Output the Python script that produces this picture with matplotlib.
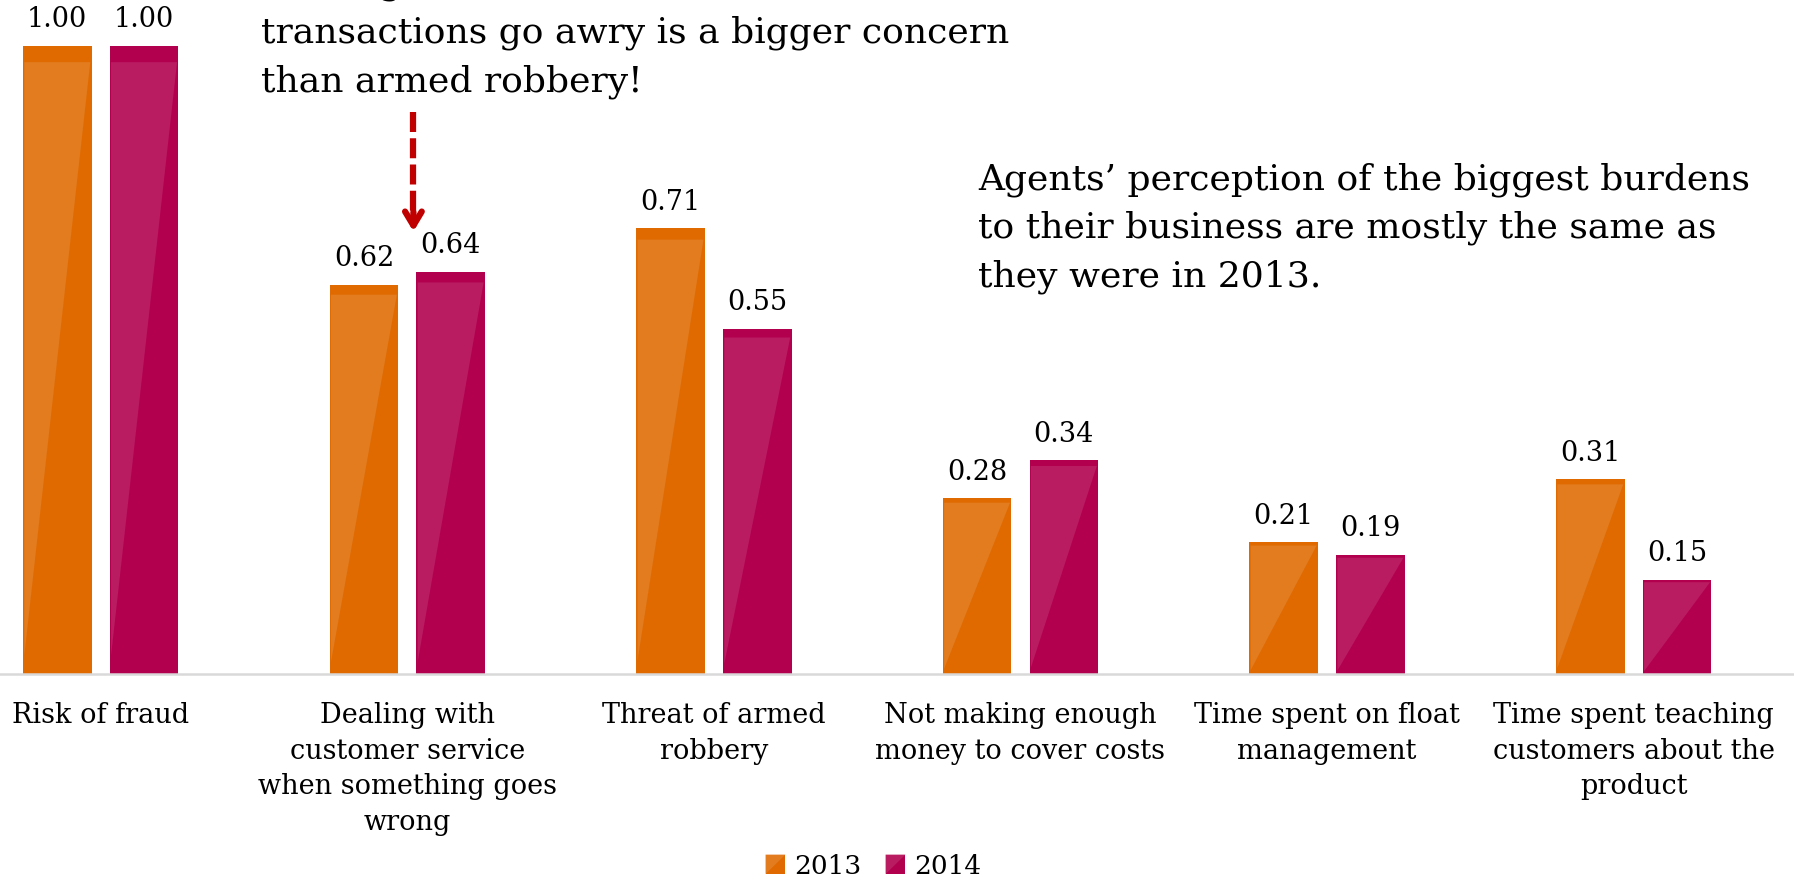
import numpy as np
import matplotlib
matplotlib.use('Agg')
import matplotlib.pyplot as plt
from matplotlib.patches import Polygon, Rectangle
from matplotlib.legend_handler import HandlerBase

plt.rcParams['font.family'] = 'DejaVu Serif'

categories = ['Risk of fraud',
              'Dealing with\ncustomer service\nwhen something goes\nwrong',
              'Threat of armed\nrobbery',
              'Not making enough\nmoney to cover costs',
              'Time spent on float\nmanagement',
              'Time spent teaching\ncustomers about the\nproduct']
years = ['2013', '2014']
vals_2013 = [1.00, 0.62, 0.71, 0.28, 0.21, 0.31]
vals_2014 = [1.00, 0.64, 0.55, 0.34, 0.19, 0.15]

# base colour and lighter sheen colour for each series
dark = ['#E06A00', '#B2004F']
light = ['#E27C1F', '#BA1C62']

W, H = 1794, 880
fig = plt.figure(figsize=(W / 100, H / 100), dpi=100)
ax = fig.add_axes([0, 206 / H, 1, 674 / H])

x = np.arange(len(categories))
bw = 0.224
off = 0.1415


def gloss(ax, bars, col):
    # light triangle from the top-right corner down to the bottom-left
    for b in bars:
        x0, w, h = b.get_x(), b.get_width(), b.get_height()
        pts = [(x0 + 0.02 * w, 0.974 * h), (x0 + 0.98 * w, 0.974 * h), (x0 + 0.02 * w, 0.03 * h)]
        ax.add_patch(Polygon(pts, closed=True, fc=col, ec='none', zorder=3))


for i, (vals, yr) in enumerate(zip([vals_2013, vals_2014], years)):
    bars = ax.bar(x + (i * 2 - 1) * off, vals, bw, color=dark[i], label=yr, zorder=2)
    gloss(ax, bars, light[i])
    ax.bar_label(bars, fmt='%.2f', padding=9, fontsize=19.5)

ax.set_xlim(-0.3284, 5.523)
ax.set_ylim(0, 1.073)
ax.set_yticks([])
ax.set_xticks(x)
ax.set_xticklabels(categories, fontsize=19.5, linespacing=1.42)
ax.tick_params(axis='x', length=0, pad=20)
for s in ['top', 'left', 'right']:
    ax.spines[s].set_visible(False)
ax.spines['bottom'].set_color('#D9D9D9')
ax.spines['bottom'].set_linewidth(1.8)

# dashed pointer towards the customer service bars
ax.plot([1.02, 1.02], [0.895, 0.72], color='#C00000', lw=4.5, ls=(0, (3.2, 1.0)), zorder=4)
ax.annotate('', xy=(1.02, 0.70), xytext=(1.02, 0.74),
            arrowprops=dict(arrowstyle='->,head_length=1.0,head_width=0.6', color='#C00000', lw=4.5))

fig.text(261 / W, 1 - 33 / H,
         'Dealing with customer service when\ntransactions go awry is a bigger concern\nthan armed robbery!',
         fontsize=26, va='center', ha='left', linespacing=1.53)
fig.text(978 / W, 1 - 228 / H,
         'Agents\u2019 perception of the biggest burdens\nto their business are mostly the same as\nthey were in 2013.',
         fontsize=26, va='center', ha='left', linespacing=1.52)


class GlossHandler(HandlerBase):
    def create_artists(self, legend, orig_handle, xdescent, ydescent, width, height, fontsize, trans):
        x0, y0 = -xdescent, -ydescent
        d = orig_handle.get_facecolor()
        idx = 0 if orig_handle.get_label() == years[0] else 1
        r = Rectangle((x0, y0), width, height, fc=d, ec='none', transform=trans)
        t = Polygon([(x0, y0 + height), (x0 + width, y0 + height), (x0, y0)], closed=True,
                    fc=light[idx], ec='none', transform=trans)
        return [r, t]


handles = [Rectangle((0, 0), 1, 1, fc=dark[i], label=years[i]) for i in range(2)]
fig.legend(handles=handles, labels=years, handler_map={Rectangle: GlossHandler()},
           loc='center', bbox_to_anchor=(0.487, 14 / H), ncol=2, frameon=False,
           fontsize=19, handlelength=0.75, handleheight=0.75, handletextpad=0.35,
           columnspacing=0.9, borderaxespad=0)

fig.savefig('out.png', dpi=100)
